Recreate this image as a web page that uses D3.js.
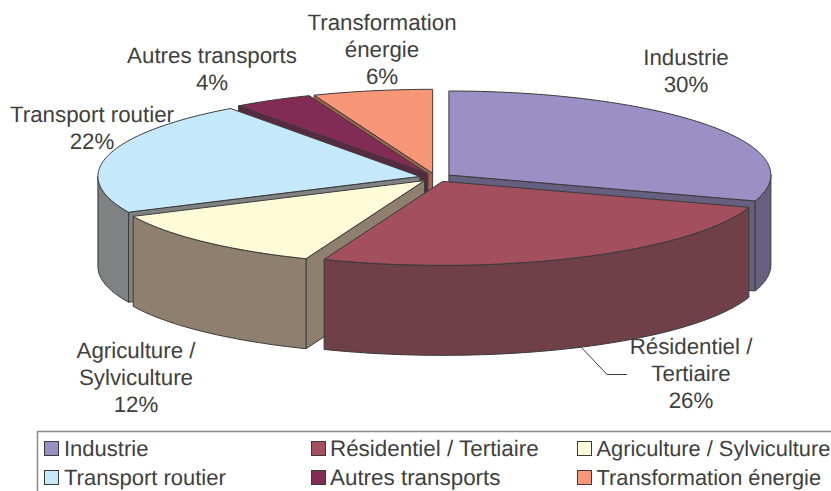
<!DOCTYPE html>
<html><head><meta charset="utf-8">
<style>html,body{margin:0;padding:0;background:#fff}svg{display:block}text{text-rendering:geometricPrecision}</style>
<script src="https://cdn.jsdelivr.net/npm/d3@7"></script></head>
<body><svg id="c" width="831" height="491"></svg>
<script>
const categories=["Industrie","Résidentiel / Tertiaire","Agriculture / Sylviculture","Transport routier","Autres transports","Transformation énergie"];
const values=[30,26,12,22,4,6];
const topColors=["#9A90C6","#A34F5E","#FFFAD8","#C5E9FB","#822B55","#F79777"];
const wallColors=["#675F80","#6F4047","#8F7F6E","#7F8183","#572A40","#A0644F"];
const labelLines=[["Industrie","30%"],["Résidentiel /","Tertiaire","26%"],["Agriculture /","Sylviculture","12%"],["Transport routier","22%"],["Autres transports","4%"],["Transformation","énergie","6%"]];
const labelAnchors=[[686,65],[691,354],[136,358],[92,122],[212,63],[382,30]];
const paintOrder=[5,4,3,0,2,1];

const svg=d3.select("#c");
const ink="#3a3a3a", textCol="#404040", font="'Liberation Sans',Arial,sans-serif";
const cx=435.7,cy=177.5,rx=322,ry=84,depth=90,explode=16.3;
const pie=d3.pie().sort(null).value(d=>d)(values);
const sx=d3.scaleLinear().domain([-1,1]).range([-rx,rx]);
const sy=d3.scaleLinear().domain([-1,1]).range([-ry,ry]);
function pt(c,a,r=1,dz=0){return [c[0]+sx(Math.sin(a)*r),c[1]+sy(-Math.cos(a)*r)+dz];}
function arcPts(c,a0,a1,dz){const n=Math.max(2,Math.ceil((a1-a0)*60));return d3.range(n+1).map(i=>pt(c,a0+(a1-a0)*i/n,1,dz));}
const line=d3.line();
const close=p=>line(p)+"Z";

function drawSlice(i){
  const d=pie[i],mid=(d.startAngle+d.endAngle)/2;
  const c=[cx+explode*Math.sin(mid),cy-explode*Math.cos(mid)*ry/rx];
  const g=svg.append("g").attr("stroke",ink).attr("stroke-width",1).attr("stroke-linejoin","round");
  const wall=a=>close([c,pt(c,a),pt(c,a,1,depth),[c[0],c[1]+depth]]);
  if(Math.sin(d.startAngle)<-1e-6) g.append("path").attr("d",wall(d.startAngle)).attr("fill",wallColors[i]);
  if(Math.sin(d.endAngle)>1e-6) g.append("path").attr("d",wall(d.endAngle)).attr("fill",wallColors[i]);
  const a0=Math.max(d.startAngle,Math.PI/2),a1=Math.min(d.endAngle,3*Math.PI/2);
  if(a1>a0){
    g.append("path").attr("d",close(arcPts(c,a0,a1,0).concat(arcPts(c,a0,a1,depth).reverse()))).attr("fill",wallColors[i]);
  }
  g.append("path").attr("d",close([c].concat(arcPts(c,d.startAngle,d.endAngle,0)))).attr("fill",topColors[i]);
}
paintOrder.forEach(drawSlice);

// leader line
svg.append("path").attr("d",line([[580,346],[607,374.5],[627,374.5]])).attr("fill","none").attr("stroke",ink).attr("stroke-width",1);

// data labels
labelLines.forEach((ls,i)=>{
  svg.append("text").attr("text-anchor","middle").attr("font-family",font).attr("font-size",22.3).attr("fill",textCol)
    .selectAll("tspan").data(ls).join("tspan")
    .attr("x",labelAnchors[i][0]).attr("y",(t,j)=>labelAnchors[i][1]+j*27).text(t=>t);
});

// legend
svg.append("path").attr("d","M37.5,491V431.5H831").attr("fill","none").attr("stroke","#8a8a8a").attr("stroke-width",1.5);
const colX=[44,311,577],rowY=[441,470];
const legendFont=[22,22.4,21.8],legendGap=[20,19,19.5];
categories.forEach((name,i)=>{
  const x=colX[i%3],y=rowY[Math.floor(i/3)];
  svg.append("rect").attr("x",x+.5).attr("y",y+.5).attr("width",14).attr("height",14).attr("fill",topColors[i]).attr("stroke",ink);
  svg.append("text").attr("x",x+legendGap[i%3]).attr("y",y+14.5).attr("font-family",font).attr("font-size",legendFont[i%3]).attr("fill",textCol).text(name);
});
</script></body></html>
